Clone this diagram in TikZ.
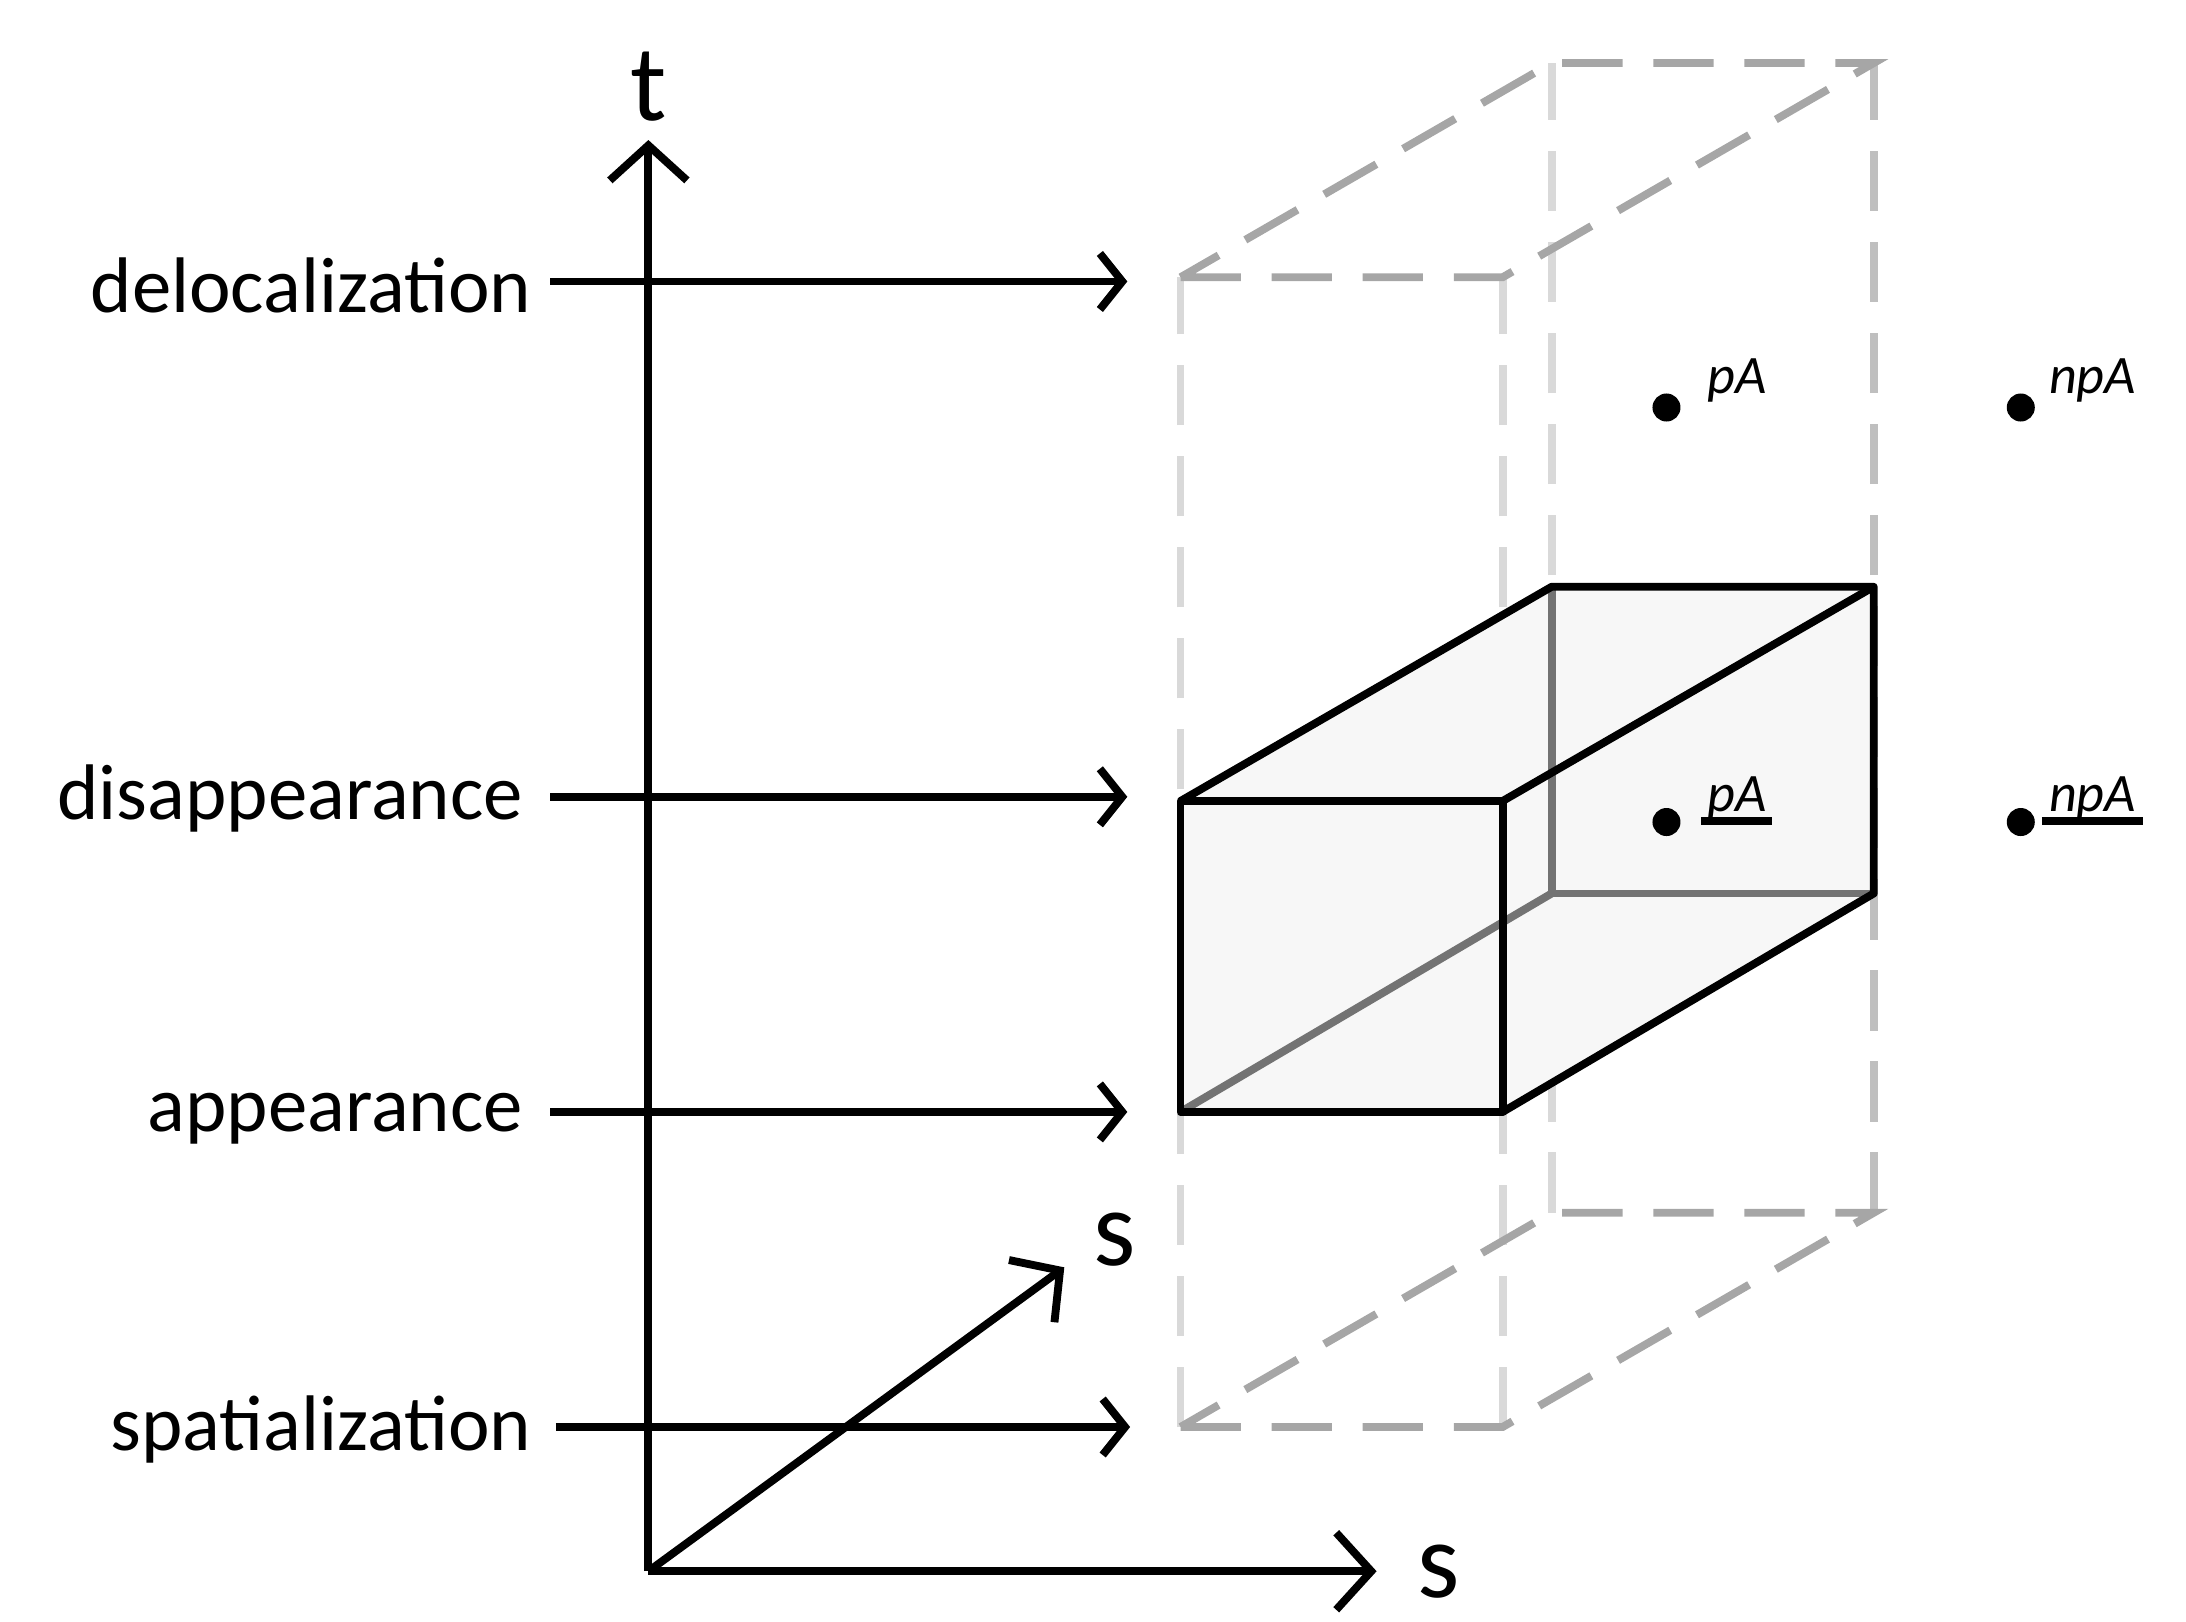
\documentclass[tikz,border=0pt]{standalone}
\usepackage{fontspec}
\setmainfont{Carlito}
\usetikzlibrary{arrows.meta}
\begin{document}
\begin{tikzpicture}[x=0.01cm,y=-0.01cm,
  ln/.style={line width=1.6pt},
  arr/.style={ln,-{Straight Barb[length=0.16cm,width=0.4cm,line width=1.6pt]}},
  bigarr/.style={ln,-{Straight Barb[length=0.25cm,width=0.55cm,line width=1.6pt]}},
  lab/.style={font=\fontsize{16}{18}\selectfont,anchor=east,inner sep=0pt},
  dl/.style={line width=1.6pt,dash pattern=on 0.43cm off 0.22cm,color=black!15},
  dd/.style={line width=1.6pt,dash pattern=on 0.43cm off 0.22cm,color=black!35},
  hid/.style={line width=1.6pt,color=black!55},
  dot/.style={circle,fill=black,inner sep=0pt,minimum size=0.2cm},
  pl/.style={font=\fontsize{11}{13}\selectfont\itshape,anchor=west,inner sep=1pt}]
\useasboundingbox (0,0) rectangle (1561,1158);
% axes
\coordinate (O) at (463,1122);
\coordinate (T) at (463,100);
\coordinate (SX) at (983,1122);
\coordinate (SD) at (760,905);
\draw[bigarr] (O) -- (T);
\draw[bigarr] (O) -- (SX);
\draw[bigarr] (O) -- (SD);
\node[font=\fontsize{22}{24}\selectfont] (tl) at (463,62) {t};
\node[font=\fontsize{22}{24}\selectfont] (sl1) at (1027,1122) {s};
\node[font=\fontsize{22}{24}\selectfont] (sl2) at (796,885) {s};
% labels and arrows
\node[lab] (l1) at (380,204) {delocalization};
\node[lab] (l2) at (374,570) {disappearance};
\node[lab] (l3) at (374,799) {appearance};
\node[lab] (l4) at (380,1021) {spatialization};
\coordinate (e1) at (805,201);
\coordinate (e2) at (805,569);
\coordinate (e3) at (805,794);
\coordinate (e4) at (807,1019);
\draw[arr] (393,201) -- (e1);
\draw[arr] (393,569) -- (e2);
\draw[arr] (393,794) -- (e3);
\draw[arr] (397,1019) -- (e4);
% dashed big box
\draw[dl] (843,1019) -- (843,198);
\draw[dl] (1073,1019) -- (1073,198);
\draw[dl] (1108,866) -- (1108,45);
\draw[dl,color=black!25] (1338,866) -- (1338,45);
\draw[dd] (843,198) -- (1073,198) -- (1338,45) -- (1108,45) -- cycle;
\draw[dd] (843,1019) -- (1073,1019) -- (1338,866) -- (1108,866) -- cycle;
% solid box
\fill[black!3] (843,572) -- (1108,419) -- (1338,419) -- (1338,638) -- (1073,794) -- (843,794) -- cycle;
\draw[hid] (1108,419) -- (1108,638) -- (1338,638);
\draw[hid] (843,794) -- (1108,638);
\draw[ln,line join=round] (843,572) rectangle (1073,794);
\draw[ln,line join=round] (843,572) -- (1108,419) -- (1338,419) -- (1338,638) -- (1073,794);
\draw[ln] (1073,572) -- (1338,419);
% points
\node[dot] (d1) at (1190,291) {};
\node[dot] (d2) at (1443,291) {};
\node[dot] (d3) at (1190,587) {};
\node[dot] (d4) at (1443,587) {};
\node[pl] at (1215,272) {pA};
\node[pl] at (1459,272) {npA};
\node[pl] (u1) at (1215,570) {pA};
\node[pl] (u2) at (1459,570) {npA};
\draw[line width=1.6pt] (1215,586) -- (1265,586);
\draw[line width=1.6pt] (1458,586) -- (1530,586);
\end{tikzpicture}
\end{document}
